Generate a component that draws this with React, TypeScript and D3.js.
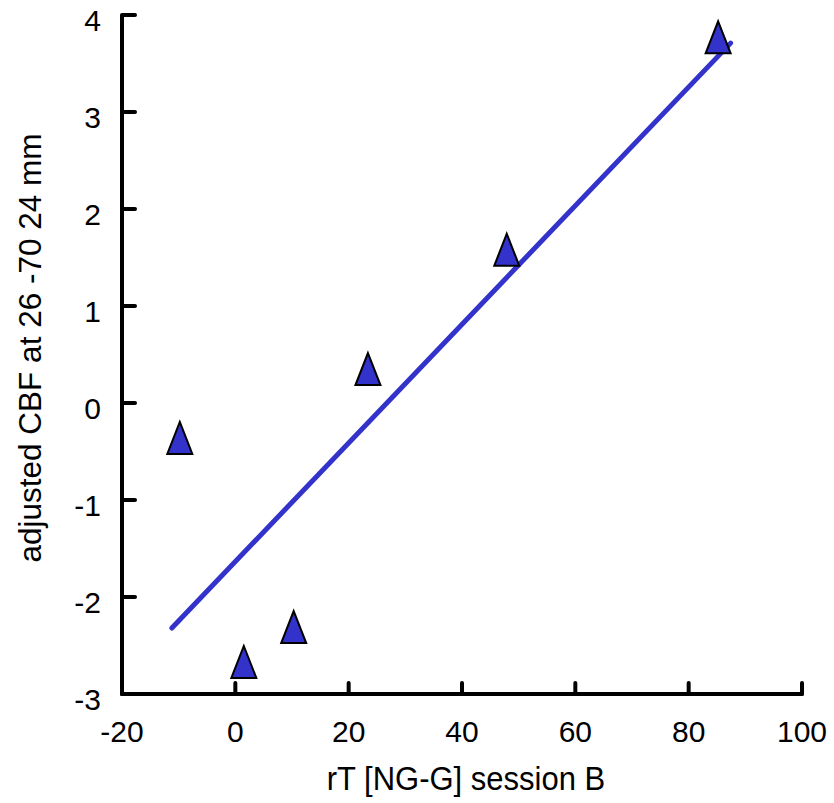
import React, { useEffect, useRef } from 'react';
import * as d3 from 'd3';

// values
const rtValues = [-9.8, 1.5, 10.3, 23.4, 47.9, 85.2];
const cbfValues = [-0.36, -2.67, -2.31, 0.35, 1.58, 3.77];
const trendX = [-11.2, 87.4];
const trendY = [-2.32, 3.71];
const xTicks = [-20, 0, 20, 40, 60, 80, 100];
const yTicks = [-3, -2, -1, 0, 1, 2, 3, 4];

const xTitle = 'rT [NG-G] session B';
const yTitle = 'adjusted CBF at 26 -70 24 mm';

export default function App() {
  const svgRef = useRef<SVGSVGElement>(null);

  useEffect(() => {
    const font = 'Liberation Sans, Arial, sans-serif';
    const blue = '#3333cc';

    const svg = d3.select(svgRef.current);
    svg.selectAll('*').remove();

    const x = d3.scaleLinear().domain([-20, 100]).range([122, 802]);
    const y = d3.scaleLinear().domain([-3, 4]).range([694, 15]);

    // axes
    svg.append('line')
      .attr('x1', x(-20)).attr('x2', x(-20))
      .attr('y1', y(4)).attr('y2', y(-3))
      .attr('stroke', 'black').attr('stroke-width', 4);
    svg.append('line')
      .attr('x1', x(-20)).attr('x2', x(100))
      .attr('y1', y(-3)).attr('y2', y(-3))
      .attr('stroke', 'black').attr('stroke-width', 4).attr('stroke-linecap', 'round');

    svg.append('g').selectAll('line')
      .data(yTicks)
      .join('line')
      .attr('x1', x(-20)).attr('x2', x(-20) + 13)
      .attr('y1', d => y(d)).attr('y2', d => y(d))
      .attr('stroke', 'black').attr('stroke-width', 4).attr('stroke-linecap', 'round');

    svg.append('g').selectAll('line')
      .data(xTicks)
      .join('line')
      .attr('x1', d => x(d)).attr('x2', d => x(d))
      .attr('y1', y(-3)).attr('y2', y(-3) - 11)
      .attr('stroke', 'black').attr('stroke-width', 4).attr('stroke-linecap', 'round');

    // tick labels
    svg.append('g').selectAll('text')
      .data(yTicks)
      .join('text')
      .attr('x', 101)
      .attr('y', d => y(d) + 16)
      .attr('text-anchor', 'end')
      .attr('font-family', font)
      .attr('font-size', 30)
      .text(d => String(d));

    svg.append('g').selectAll('text')
      .data(xTicks)
      .join('text')
      .attr('x', d => x(d))
      .attr('y', 742)
      .attr('text-anchor', 'middle')
      .attr('font-family', font)
      .attr('font-size', 30)
      .text(d => String(d));

    // axis titles (reference text is a little stretched vertically)
    svg.append('text')
      .attr('transform', 'translate(466,790) scale(1,1.1)')
      .attr('text-anchor', 'middle')
      .attr('font-family', font)
      .attr('font-size', 31)
      .text(xTitle);

    svg.append('text')
      .attr('transform', 'translate(41,348) rotate(-90)')
      .attr('text-anchor', 'middle')
      .attr('font-family', font)
      .attr('font-size', 31.5)
      .text(yTitle);

    // trend line
    const line = d3.line<number>()
      .x(d => x(trendX[d]))
      .y(d => y(trendY[d]));
    svg.append('path')
      .datum([0, 1])
      .attr('fill', 'none')
      .attr('stroke', blue)
      .attr('stroke-width', 5)
      .attr('stroke-linecap', 'round')
      .attr('d', line);

    // triangle markers
    const tw = 25;
    const th = 32;
    svg.append('g').selectAll('path')
      .data(rtValues.map((v, i) => ({ rt: v, cbf: cbfValues[i] })))
      .join('path')
      .attr('transform', d => `translate(${x(d.rt)},${y(d.cbf)})`)
      .attr('d', `M0,${-th / 2}L${tw / 2},${th / 2}L${-tw / 2},${th / 2}Z`)
      .attr('fill', blue)
      .attr('stroke', 'black')
      .attr('stroke-width', 2);
  }, []);

  return (
    <svg
      ref={svgRef}
      width={834}
      height={803}
      style={{ position: 'absolute', left: 0, top: 0, background: 'white' }}
    />
  );
}
